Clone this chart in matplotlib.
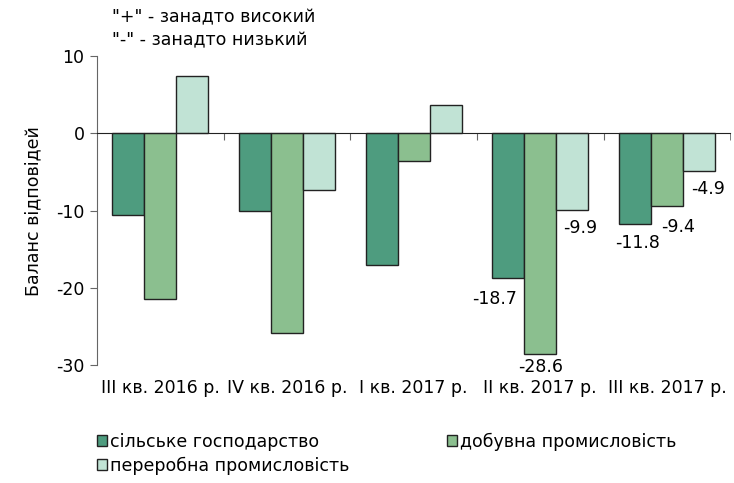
import matplotlib.pyplot as plt
import numpy as np

plt.rcParams['font.family'] = ['DejaVu Sans']
plt.rcParams['axes.unicode_minus'] = False

quarters = ['III кв. 2016 р.', 'IV кв. 2016 р.', 'I кв. 2017 р.', 'II кв. 2017 р.', 'III кв. 2017 р.']
series_names = ['сільське господарство', 'добувна промисловість', 'переробна промисловість']
agriculture = [-10.6, -10.1, -17.1, -18.7, -11.8]
mining = [-21.5, -25.8, -3.6, -28.6, -9.4]
processing = [7.4, -7.4, 3.7, -9.9, -4.9]
labelled = [3, 4]  # only the last two quarters carry value labels

colors = ['#4e9c7f', '#8bbf8f', '#c1e3d5']
# label offsets in points (dx, dy) from the bar end: {(series, quarter): offset}
label_offsets = {(0, 3): (-10, -15), (1, 3): (0, -9), (2, 3): (6, -13),
                 (0, 4): (2, -13), (1, 4): (8, -15), (2, 4): (6.5, -13)}
fs = 12.5

fig = plt.figure(figsize=(7.34, 4.83), dpi=100)
ax = fig.add_axes([0.132, 0.244, 0.863, 0.640])

x = np.arange(len(quarters))
w = 0.253
handles = []
for k, vals in enumerate([agriculture, mining, processing]):
    bars = ax.bar(x + (k - 1) * w, vals, w, color=colors[k], edgecolor='#222222',
                  linewidth=1.0, label=series_names[k], zorder=2)
    handles.append(bars)
    for i in labelled:
        dx, dy = label_offsets[(k, i)]
        ax.annotate(f'{vals[i]:.1f}', (x[i] + (k - 1) * w, vals[i]), xytext=(dx, dy),
                    textcoords='offset points', ha='center', va='center', fontsize=fs)

ax.set_xlim(-0.5, len(quarters) - 0.5)
ax.set_ylim(-30, 10)
ax.set_yticks([-30, -20, -10, 0, 10])
ax.tick_params(axis='y', direction='out', length=5, color='#666666', labelsize=fs, pad=4)
ax.set_xticks(x[:-1] + 0.5)
ax.set_xticks([len(quarters) - 0.5], minor=True)
ax.tick_params(axis='x', which='both', direction='out', length=5, color='#666666', labelbottom=False)
for s in ['top', 'right']:
    ax.spines[s].set_visible(False)
ax.spines['bottom'].set_position(('data', 0))
ax.spines['bottom'].set_color('#222222')
ax.spines['left'].set_color('#666666')

for i, q in enumerate(quarters):
    ax.text(x[i], -0.045, q, transform=ax.get_xaxis_transform(), ha='center', va='top', fontsize=fs)

ax.set_ylabel('Баланс відповідей', fontsize=fs, labelpad=10)

fig.text(0.153, 0.965, '"+" - занадто високий', fontsize=fs, va='center')
fig.text(0.153, 0.917, '"-" - занадто низький', fontsize=fs, va='center')

# row-wise order like the original: agriculture, mining / processing
order = [0, 2, 1]
fig.legend([handles[j] for j in order], [series_names[j] for j in order],
           loc='upper left', bbox_to_anchor=(0.132, 0.105), ncol=2, frameon=False,
           fontsize=fs, handlelength=0.6, handleheight=0.6, handletextpad=0.15,
           columnspacing=5.6, borderaxespad=0, borderpad=0, labelspacing=0.35)

fig.savefig('out.png', dpi=100)
